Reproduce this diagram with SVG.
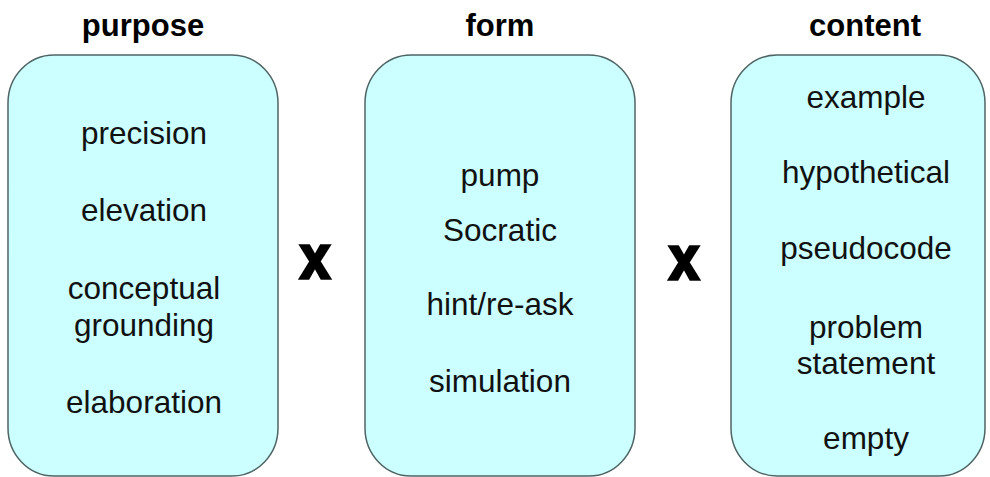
<svg xmlns="http://www.w3.org/2000/svg" width="990" height="477" viewBox="0 0 990 477">
<style>
.box{fill:#ccffff;stroke:#4f6464;stroke-width:1.5}
.t{font-family:"Liberation Sans",Arial,sans-serif;font-size:31.5px;fill:#111;text-anchor:middle}
.h{font-family:"Liberation Sans",Arial,sans-serif;font-size:31px;font-weight:bold;fill:#000;text-anchor:middle}
.x{font-family:"Liberation Sans",Arial,sans-serif;font-size:56px;font-weight:bold;fill:#000;stroke:#000;stroke-width:3;text-anchor:middle}
</style>
<rect width="990" height="477" fill="#ffffff"/>
<g id="purpose">
<text class="h" x="143" y="36">purpose</text>
<rect class="box" x="8" y="55" width="270" height="421" rx="46" ry="48"/>
<text class="t" x="144" y="144">precision</text>
<text class="t" x="144" y="221">elevation</text>
<text class="t" x="144" y="299">conceptual</text>
<text class="t" x="144" y="336">grounding</text>
<text class="t" x="144" y="413">elaboration</text>
</g>
<g id="form">
<text class="h" x="500" y="36">form</text>
<rect class="box" x="365" y="55" width="270" height="421" rx="46" ry="48"/>
<text class="t" x="500" y="186">pump</text>
<text class="t" x="500" y="241">Socratic</text>
<text class="t" x="500" y="315">hint/re-ask</text>
<text class="t" x="500" y="392">simulation</text>
</g>
<g id="content">
<text class="h" x="865" y="36">content</text>
<rect class="box" x="731" y="55" width="254" height="421" rx="46" ry="48"/>
<text class="t" x="866" y="108">example</text>
<text class="t" x="866" y="183">hypothetical</text>
<text class="t" x="866" y="259">pseudocode</text>
<text class="t" x="866" y="338">problem</text>
<text class="t" x="866" y="374">statement</text>
<text class="t" x="866" y="449">empty</text>
</g>
<g id="connectors">
<text class="x" transform="translate(315 278) scale(0.95 1.1)">x</text>
<text class="x" transform="translate(684 279) scale(0.95 1.1)">x</text>
</g>
</svg>
